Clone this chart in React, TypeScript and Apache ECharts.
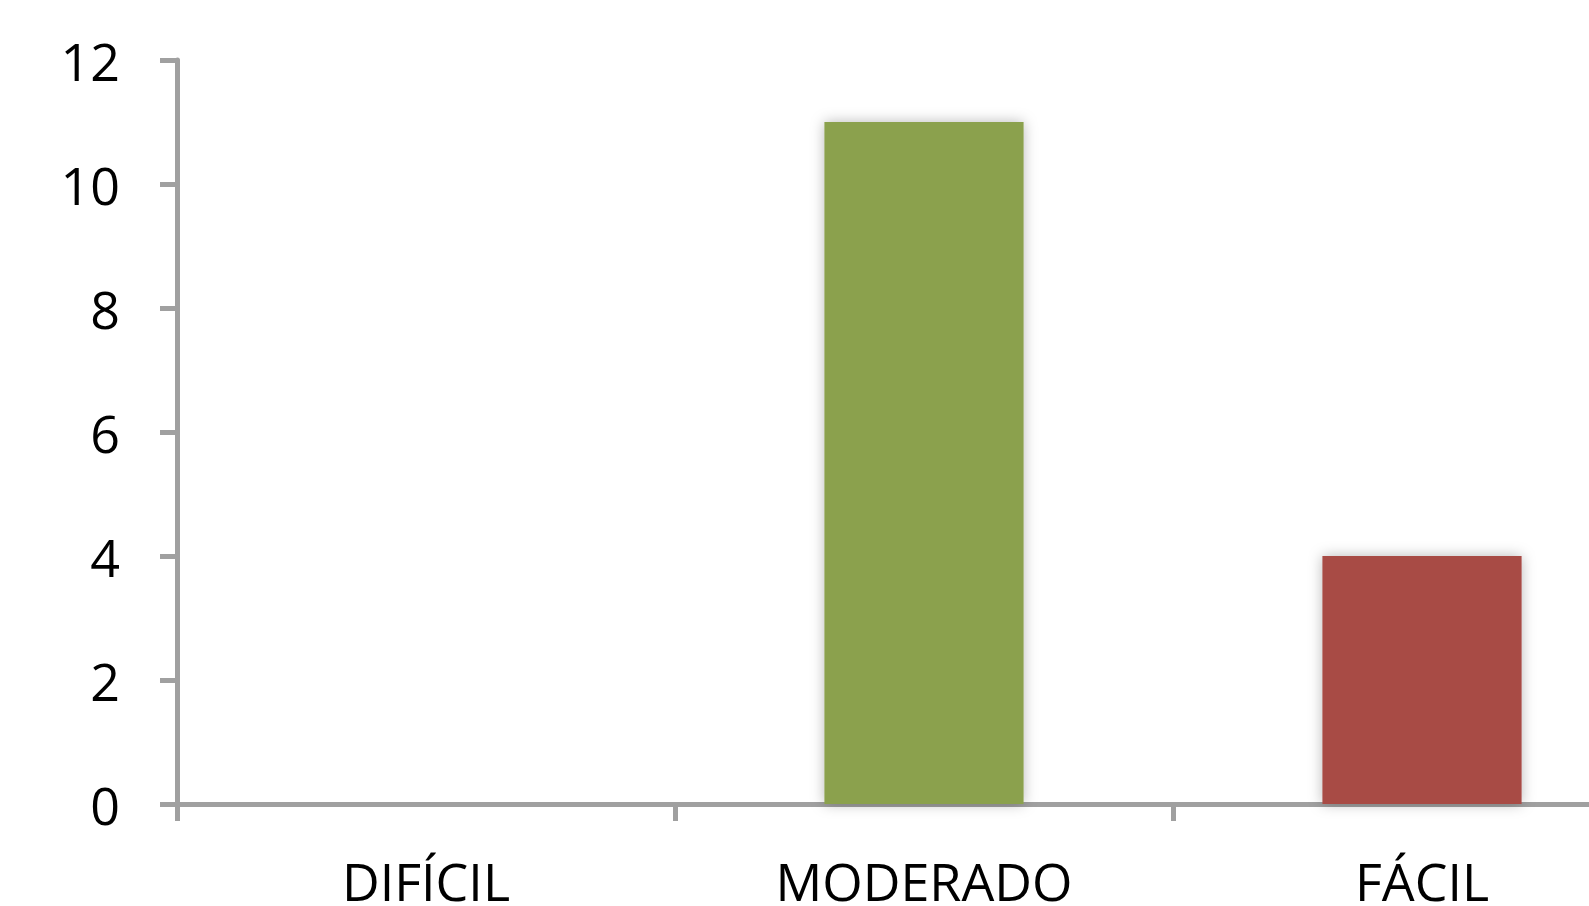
import React, { useEffect, useRef } from "react";
import * as echarts from "echarts";

// Difficulty categories and how many answers fell in each
const categories = ["DIFÍCIL", "MODERADO", "FÁCIL"];
const counts = [0, 11, 4];
const barColors = ["#4F81BD", "#8BA14D", "#A84B45"];
const yTicks = { min: 0, max: 12, interval: 2 };

export default function App() {
  const ref = useRef<HTMLDivElement>(null);

  useEffect(() => {
    document.body.style.margin = "0";
    if (!ref.current) return;
    const chart = echarts.init(ref.current, undefined, { renderer: "svg" });
    const axisGray = "#A0A0A0";
    const font = '"Open Sans", "Noto Sans", sans-serif';
    chart.setOption({
      animation: false,
      backgroundColor: "#FFFFFF",
      grid: { left: 177, right: 0, top: 60, bottom: 102, containLabel: false },
      xAxis: {
        type: "category",
        data: categories,
        axisLine: { show: true, lineStyle: { color: axisGray, width: 5 } },
        axisTick: {
          show: true,
          alignWithLabel: false,
          length: 17,
          lineStyle: { color: axisGray, width: 5 },
        },
        axisLabel: {
          color: "#000000",
          fontFamily: font,
          fontSize: 52,
          margin: 50,
        },
        splitLine: { show: false },
      },
      yAxis: {
        type: "value",
        min: yTicks.min,
        max: yTicks.max,
        interval: yTicks.interval,
        axisLine: { show: true, lineStyle: { color: axisGray, width: 5 } },
        axisTick: {
          show: true,
          length: 17,
          lineStyle: { color: axisGray, width: 5 },
        },
        axisLabel: {
          color: "#000000",
          fontFamily: font,
          fontSize: 52,
          margin: 57,
          padding: [14, 0, 0, 0],
        },
        splitLine: { show: false },
      },
      series: [
        {
          type: "bar",
          barCategoryGap: "60%",
          data: counts.map((v, i) => ({
            value: v,
            itemStyle: { color: barColors[i] },
          })),
          itemStyle: {
            shadowBlur: 14,
            shadowColor: "rgba(0,0,0,0.28)",
            shadowOffsetX: 0,
            shadowOffsetY: 0,
          },
          z: 1,
        },
      ],
    });
    return () => chart.dispose();
  }, []);

  return (
    <div style={{ width: 1589, height: 906, overflow: "hidden", position: "relative" }}>
      <div ref={ref} style={{ width: 1671, height: 906 }} />
    </div>
  );
}
